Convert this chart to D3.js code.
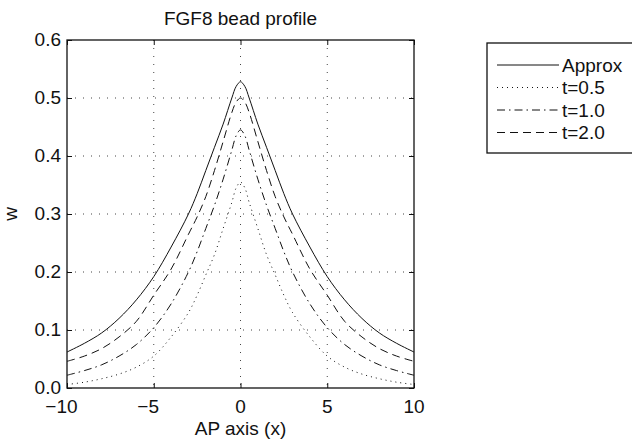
<!DOCTYPE html>
<html>
<head>
<meta charset="utf-8">
<script src="https://cdn.jsdelivr.net/npm/d3@7"></script>
<style>
  body { margin: 0; background: #fff; }
  text { font-family: "Liberation Sans", Arial, Helvetica, sans-serif; fill: #111; }
</style>
</head>
<body>
<div id="chart"></div>
<script>
// x positions along the AP axis
const xs = [-10,-9,-8,-7,-6,-5,-4,-3,-2.5,-2,-1.5,-1,-0.5,-0.25,0,0.25,0.5,1,1.5,2,2.5,3,4,5,6,7,8,9,10]

const approx = [0.062,0.077,0.095,0.12,0.152,0.192,0.243,0.30,0.335,0.375,0.415,0.455,0.50,0.52,0.528,0.52,0.50,0.455,0.415,0.375,0.335,0.30,0.243,0.192,0.152,0.12,0.095,0.077,0.062]
const t05 = [0.006,0.01,0.016,0.024,0.036,0.055,0.088,0.13,0.16,0.195,0.23,0.275,0.32,0.345,0.355,0.345,0.32,0.275,0.23,0.195,0.16,0.13,0.088,0.055,0.036,0.024,0.016,0.01,0.006]
const t10 = [0.022,0.03,0.04,0.055,0.075,0.104,0.145,0.20,0.235,0.275,0.315,0.36,0.41,0.435,0.445,0.435,0.41,0.36,0.315,0.275,0.235,0.20,0.145,0.104,0.075,0.055,0.04,0.03,0.022]
const t20 = [0.046,0.055,0.068,0.088,0.115,0.16,0.205,0.265,0.295,0.33,0.375,0.425,0.475,0.493,0.50,0.493,0.475,0.425,0.375,0.33,0.295,0.265,0.205,0.16,0.115,0.088,0.068,0.055,0.046]

const seriesNames = ['Approx', 't=0.5', 't=1.0', 't=2.0']
const seriesValues = [approx, t05, t10, t20]
const dashes = [null, '1,4', '8,4,1.5,4', '8,5']

const xTicks = [-10,-5,0,5,10]
const yTicks = [0,0.1,0.2,0.3,0.4,0.5,0.6]

let width = 632
let height = 442
let pLeft = 67, pRight = 414, pTop = 40, pBottom = 388

const svg = d3.select('#chart')
  .append('svg')
  .attr('width', width)
  .attr('height', height)

let xScale = d3.scaleLinear().domain([-10, 10]).range([pLeft, pRight])
let yScale = d3.scaleLinear().domain([0, 0.6]).range([pBottom, pTop])

// grid
svg.append('g')
  .selectAll('line')
  .data(xTicks.slice(1, -1))
  .join('line')
  .attr('x1', d => xScale(d)).attr('x2', d => xScale(d))
  .attr('y1', pTop).attr('y2', pBottom)
  .attr('stroke', '#444').attr('stroke-width', 1)
  .attr('stroke-dasharray', '1,7')

svg.append('g')
  .selectAll('line')
  .data(yTicks.slice(1, -1))
  .join('line')
  .attr('x1', pLeft).attr('x2', pRight)
  .attr('y1', d => yScale(d)).attr('y2', d => yScale(d))
  .attr('stroke', '#444').attr('stroke-width', 1)
  .attr('stroke-dasharray', '1,7')

// axes, ticks pointing inward like matlab
const fmtX = d => d < 0 ? '\u2212' + Math.abs(d) : String(d)

svg.append('g')
  .attr('transform', `translate(0,${pBottom})`)
  .call(d3.axisTop(xScale).tickValues(xTicks).tickSize(5).tickFormat(''))
  .call(g => g.select('.domain').remove())

svg.append('g')
  .attr('transform', `translate(0,${pTop})`)
  .call(d3.axisBottom(xScale).tickValues(xTicks).tickSize(5).tickFormat(''))
  .call(g => g.select('.domain').remove())

svg.append('g')
  .attr('transform', `translate(${pLeft},0)`)
  .call(d3.axisRight(yScale).tickValues(yTicks).tickSize(5).tickFormat(''))
  .call(g => g.select('.domain').remove())

svg.append('g')
  .attr('transform', `translate(${pRight},0)`)
  .call(d3.axisLeft(yScale).tickValues(yTicks).tickSize(5).tickFormat(''))
  .call(g => g.select('.domain').remove())

svg.selectAll('.tick line').attr('stroke', '#111')

// tick labels
svg.append('g')
  .selectAll('text')
  .data(xTicks)
  .join('text')
  .attr('x', d => xScale(d))
  .attr('y', 413)
  .attr('font-size', 19)
  .attr('text-anchor', d => d < 0 ? 'end' : 'middle')
  .attr('dx', d => d < 0 ? (String(Math.abs(d)).length * 0.278) + 'em' : 0)
  .text(fmtX)

svg.append('g')
  .selectAll('text')
  .data(yTicks)
  .join('text')
  .attr('x', 61)
  .attr('y', d => yScale(d))
  .attr('dy', '0.34em')
  .attr('font-size', 19)
  .attr('text-anchor', 'end')
  .text(d => d.toFixed(1))

// frame
svg.append('rect')
  .attr('x', pLeft).attr('y', pTop)
  .attr('width', pRight - pLeft).attr('height', pBottom - pTop)
  .attr('fill', 'none').attr('stroke', '#111').attr('stroke-width', 1.3)

// curves
let line = d3.line()
  .curve(d3.curveCatmullRom.alpha(0.5))
  .x((d, i) => xScale(xs[i]))
  .y(d => yScale(d))

seriesValues.forEach(function(vals, k){
  svg.append('path')
    .datum(vals)
    .attr('d', line)
    .attr('fill', 'none')
    .attr('stroke', '#111')
    .attr('stroke-width', 1)
    .attr('stroke-dasharray', dashes[k])
})

// titles
svg.append('text')
  .attr('x', (pLeft + pRight) / 2).attr('y', 25)
  .attr('text-anchor', 'middle').attr('font-size', 19)
  .text('FGF8 bead profile')

svg.append('text')
  .attr('x', (pLeft + pRight) / 2).attr('y', 435)
  .attr('text-anchor', 'middle').attr('font-size', 19)
  .text('AP axis (x)')

svg.append('text')
  .attr('transform', `translate(17,${(pTop + pBottom) / 2}) rotate(-90)`)
  .attr('text-anchor', 'middle').attr('font-size', 19)
  .text('w')

// legend
const legend = svg.append('g')

legend.append('rect')
  .attr('x', 487).attr('y', 43)
  .attr('width', 160).attr('height', 110)
  .attr('fill', '#fff').attr('stroke', '#111').attr('stroke-width', 1.3)

seriesNames.forEach(function(name, k){
  let yy = 65 + k * 22.5
  legend.append('line')
    .attr('x1', 497).attr('x2', 559)
    .attr('y1', yy).attr('y2', yy)
    .attr('stroke', '#111').attr('stroke-width', 1)
    .attr('stroke-dasharray', dashes[k])
  legend.append('text')
    .attr('x', 562).attr('y', yy)
    .attr('dy', '0.36em').attr('font-size', 19)
    .text(name)
})
</script>
</body>
</html>
